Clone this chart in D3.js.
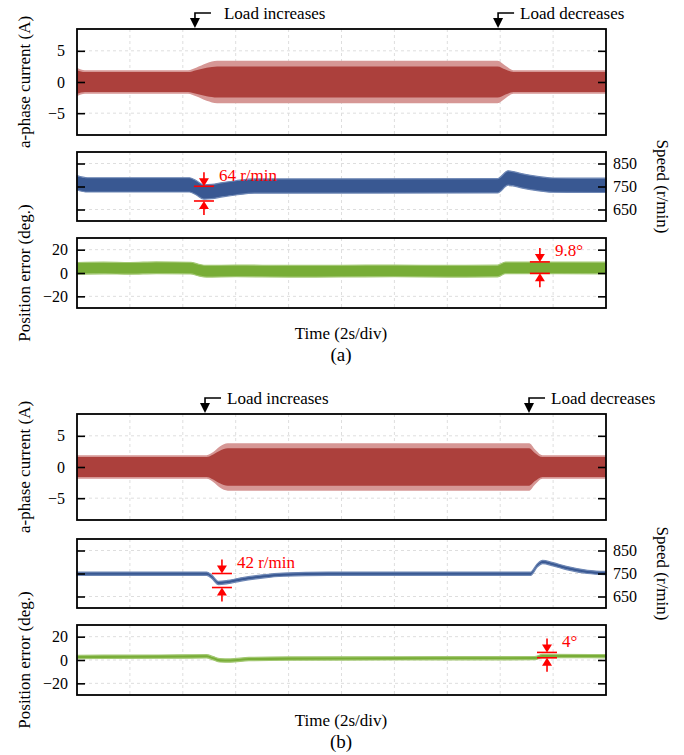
<!DOCTYPE html>
<html>
<head>
<meta charset="utf-8">
<script src="https://cdn.jsdelivr.net/npm/d3@7"></script>
<style>
body { margin: 0; background: #fff; }
</style>
</head>
<body>
<div id="canvas"></div>
<script>
"use strict"

/* ---- data (time in s, 2 s per division) ---- */
const timeTicks = [0, 2, 4, 6, 8, 10, 12, 14, 16, 18, 20];
const curTicks = [-5, 0, 5];
const spdTicks = [650, 750, 850];
const posTicks = [-20, 0, 20];

/* (a) a-phase current envelope: peak of the light fringe and of the dense core */
const curTimeA = [0, 0.3, 4.2, 4.5, 4.9, 5.3, 15.9, 16.2, 16.5, 20];
const curPeakA = [2.3, 1.9, 1.9, 2.3, 3.0, 3.4, 3.4, 2.6, 1.9, 1.9];
const curCoreA = [1.9, 1.6, 1.6, 1.9, 2.3, 2.5, 2.5, 2.0, 1.6, 1.6];

/* (a) speed band centre and ripple half-width */
const spdTimeA = [0, 0.4, 4.25, 4.5, 4.8, 5.1, 5.5, 6.0, 6.7, 15.9, 16.3, 16.8, 17.4, 18.0, 20];
const spdMidA = [766, 757, 757, 745, 726, 728, 736, 744, 752, 753, 787, 775, 763, 756, 755];
const spdRipA = 31;

/* (a) position error band */
const posTimeA = [0, 1, 2, 3, 4.3, 4.6, 4.9, 6, 8, 10, 12, 14, 15.9, 16.2, 20];
const posMidA = [4.0, 4.3, 4.0, 4.5, 4.2, 2.5, 1.5, 1.8, 1.5, 1.6, 1.8, 1.5, 1.7, 4.4, 4.3];
const posRipA = 5;

/* (b) a-phase current envelope */
const curTimeB = [0, 4.9, 5.15, 5.4, 5.7, 17.1, 17.3, 17.6, 20];
const curPeakB = [1.9, 1.9, 2.4, 3.3, 3.8, 3.8, 2.9, 1.9, 1.9];
const curCoreB = [1.6, 1.6, 2.0, 2.6, 3.0, 3.0, 2.3, 1.6, 1.6];

/* (b) speed */
const spdTimeB = [0, 4.9, 5.1, 5.35, 5.7, 6.2, 7.0, 7.8, 9.5, 17.15, 17.4, 17.6, 18.0, 18.5, 19.3, 20];
const spdMidB = [749, 749, 735, 709, 713, 724, 737, 745, 749, 749, 785, 800, 790, 774, 757, 752];
const spdRipB = 7;

/* (b) position error */
const posTimeB = [0, 2, 4, 4.9, 5.15, 5.4, 5.8, 6.5, 8, 12, 17.3, 17.6, 20];
const posMidB = [2.6, 2.8, 3.0, 3.2, 1.5, -0.3, -0.5, 0.8, 1.2, 1.4, 1.6, 3.4, 3.3];
const posRipB = 1.4;

/* load steps and measured spans */
const loadStepsA = [4.46, 15.92];
const loadStepsB = [4.84, 17.09];
const spanSpdA = { t: 4.8, hi: 751, lo: 687, label: "64 r/min" };
const spanPosA = { t: 17.5, hi: 9.5, lo: -0.3, label: "9.8°" };
const spanSpdB = { t: 5.48, hi: 750, lo: 689, label: "42 r/min" };
const spanPosB = { t: 17.77, hi: 6.5, lo: 1.9, label: "4°" };

/* ---- drawing ---- */
const serif = "'Liberation Serif', 'Times New Roman', Tinos, 'DejaVu Serif', serif";

let drawing = d3.select("#canvas")
    .append("svg")
    .attr("width", 684)
    .attr("height", 755)
    .style("font-family", serif);

let x = d3.scaleLinear().domain([0, 20]).range([77, 606]);

function drawGrid(top, bottom, domain, ticks) {
    let y = d3.scaleLinear().domain(domain).range([bottom, top]);
    let g = drawing.append("g");
    g.selectAll(".vg").data(timeTicks.slice(1, -1)).join("line")
        .attr("x1", d => x(d)).attr("x2", d => x(d))
        .attr("y1", top).attr("y2", bottom)
        .attr("stroke", "#dedede")
        .attr("stroke-dasharray", "3,3");
    g.selectAll(".hg").data(ticks).join("line")
        .attr("x1", x(0)).attr("x2", x(20))
        .attr("y1", d => y(d)).attr("y2", d => y(d))
        .attr("stroke", "#dedede")
        .attr("stroke-dasharray", "3,3");
    return y;
}

function drawFrame(y, ticks, side, pad) {
    let left = d3.axisLeft(y).tickValues(ticks).tickSizeInner(-8).tickSizeOuter(0)
        .tickPadding(pad).tickFormat(side === "left" ? d3.format("d") : "");
    let right = d3.axisRight(y).tickValues(ticks).tickSizeInner(-8).tickSizeOuter(0)
        .tickPadding(pad).tickFormat(side === "right" ? d3.format("d") : "");
    [[left, x(0)], [right, x(20)]].forEach(([ax, tx]) => {
        let g = drawing.append("g")
            .attr("transform", `translate(${tx},0)`)
            .call(ax);
        g.select(".domain").remove();
        g.selectAll("line").attr("stroke", "#000").attr("stroke-width", 1.6);
        g.selectAll("text")
            .attr("fill", "#000")
            .style("font-family", serif)
            .style("font-size", "16px");
    });
    let r = y.range();
    drawing.append("rect")
        .attr("x", x(0))
        .attr("y", r[1])
        .attr("width", x(20) - x(0))
        .attr("height", r[0] - r[1])
        .attr("fill", "none")
        .attr("stroke", "#000")
        .attr("stroke-width", 1.8);
}

function drawBand(y, times, upper, lower, fill, edge) {
    let rows = times.map((t, i) => ({ t: t, u: upper[i], l: lower[i] }));
    let area = d3.area()
        .x(d => x(d.t))
        .y0(d => y(d.l))
        .y1(d => y(d.u))
        .curve(d3.curveMonotoneX);
    drawing.append("path")
        .datum(rows)
        .attr("d", area)
        .attr("fill", fill)
        .attr("stroke", edge || "none")
        .attr("stroke-width", 1.2);
}

function addText(px, py, label, size, fill) {
    return drawing.append("text")
        .attr("x", px)
        .attr("y", py)
        .attr("dominant-baseline", "central")
        .attr("fill", fill || "#000")
        .style("font-family", serif)
        .style("font-size", size + "px")
        .text(label);
}

function drawLoadArrow(top, t, label, gap) {
    let ax = x(t);
    drawing.append("polyline")
        .attr("points", [[ax + 16, top - 16], [ax, top - 16], [ax, top - 10]].join(" "))
        .attr("fill", "none")
        .attr("stroke", "#000")
        .attr("stroke-width", 1.6);
    drawing.append("path")
        .attr("d", `M${ax - 5},${top - 11}L${ax + 5},${top - 11}L${ax},${top - 1}Z`)
        .attr("fill", "#000");
    addText(ax + 16 + gap, top - 16, label, 17);
}

function drawSpan(y, s) {
    let cx = x(s.t), yh = y(s.hi), yl = y(s.lo);
    let g = drawing.append("g").attr("stroke", "#f00").attr("fill", "#f00").attr("stroke-width", 1.6);
    g.append("line").attr("x1", cx - 10).attr("x2", cx + 10).attr("y1", yh).attr("y2", yh);
    g.append("line").attr("x1", cx - 10).attr("x2", cx + 10).attr("y1", yl).attr("y2", yl);
    g.append("line").attr("x1", cx).attr("x2", cx).attr("y1", yh - 14).attr("y2", yh - 7);
    g.append("line").attr("x1", cx).attr("x2", cx).attr("y1", yl + 14).attr("y2", yl + 7);
    g.append("path").attr("stroke", "none")
        .attr("d", `M${cx - 5},${yh - 8}L${cx + 5},${yh - 8}L${cx},${yh}Z`);
    g.append("path").attr("stroke", "none")
        .attr("d", `M${cx - 5},${yl + 8}L${cx + 5},${yl + 8}L${cx},${yl}Z`);
    addText(cx + 15, yh - 11, s.label, 17, "#f00");
}

function rotatedLabel(cx, cy, angle, label) {
    addText(0, 0, label, 17)
        .attr("text-anchor", "middle")
        .attr("transform", `translate(${cx},${cy}) rotate(${angle})`);
}

const red = "#ac403c", pink = "#d69795";
const blue = "#395892", blueEdge = "#6d86b4";
const green = "#78ad37", greenEdge = "#a3c873";

function drawFigure(top, sub, data) {
    /* current */
    let cTop = top, cBot = top + 106;
    let yc = drawGrid(cTop, cBot, [-8.5, 8.5], curTicks);
    drawBand(yc, data.curTime, data.curPeak, data.curPeak.map(v => -v), pink);
    drawBand(yc, data.curTime, data.curCore, data.curCore.map(v => -v), red);
    drawFrame(yc, curTicks, "left", 12);
    drawLoadArrow(cTop, data.steps[0], "Load increases", data.gap);
    drawLoadArrow(cTop, data.steps[1], "Load decreases", 6);
    rotatedLabel(24, (cTop + cBot) / 2, -90, "a-phase current (A)");

    /* speed */
    let sTop = top + 123 + data.shift, sBot = sTop + 69;
    let ys = drawGrid(sTop, sBot, [600, 900], spdTicks);
    drawBand(ys, data.spdTime, data.spdMid.map(v => v + data.spdRip), data.spdMid.map(v => v - data.spdRip), blue, blueEdge);
    drawFrame(ys, spdTicks, "right", 7);
    drawSpan(ys, data.spanSpd);
    rotatedLabel(662, (sTop + sBot) / 2, 90, "Speed (r/min)");

    /* position error */
    let pTop = sBot + 17, pBot = pTop + 70;
    let yp = drawGrid(pTop, pBot, [-30, 30], posTicks);
    drawBand(yp, data.posTime, data.posMid.map(v => v + data.posRip), data.posMid.map(v => v - data.posRip), green, greenEdge);
    drawFrame(yp, posTicks, "left", 9);
    drawSpan(yp, data.spanPos);
    rotatedLabel(24, (pTop + pBot) / 2, -90, "Position error (deg.)");

    addText(341, pBot + 25, "Time (2s/div)", 17).attr("text-anchor", "middle");
    addText(341, pBot + 46, sub, 19).attr("text-anchor", "middle");
}

drawFigure(29, "(a)", {
    curTime: curTimeA, curPeak: curPeakA, curCore: curCoreA,
    spdTime: spdTimeA, spdMid: spdMidA, spdRip: spdRipA,
    posTime: posTimeA, posMid: posMidA, posRip: posRipA,
    steps: loadStepsA, gap: 13, shift: 0,
    spanSpd: spanSpdA, spanPos: spanPosA
});

drawFigure(414, "(b)", {
    curTime: curTimeB, curPeak: curPeakB, curCore: curCoreB,
    spdTime: spdTimeB, spdMid: spdMidB, spdRip: spdRipB,
    posTime: posTimeB, posMid: posMidB, posRip: posRipB,
    steps: loadStepsB, gap: 6, shift: 2,
    spanSpd: spanSpdB, spanPos: spanPosB
});
</script>
</body>
</html>
